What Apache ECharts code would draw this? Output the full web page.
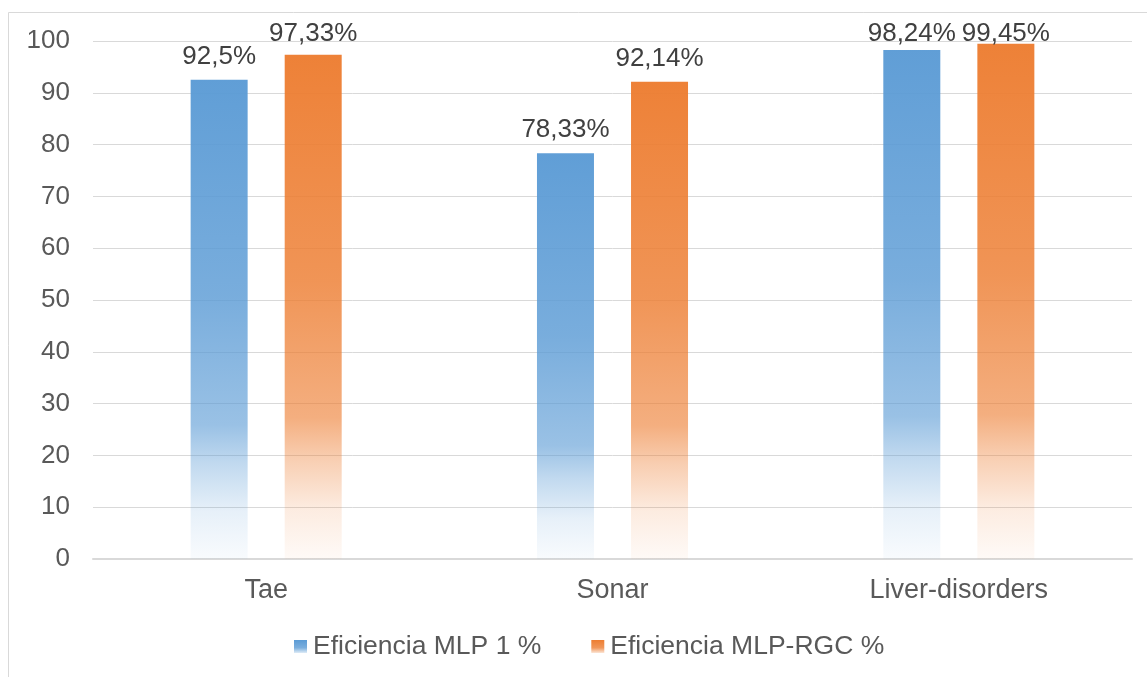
<!DOCTYPE html>
<html>
<head>
<meta charset="utf-8">
<script src="https://cdn.jsdelivr.net/npm/echarts@6/dist/echarts.min.js"></script>
<style>
  html, body { margin: 0; padding: 0; background: #fff; }
  #chart { width: 1147px; height: 677px; }
</style>
</head>
<body>
<div id="chart"></div>
<script>
// Datasets and results
const categories = ['Tae', 'Sonar', 'Liver-disorders'];
const mlp1 = [92.5, 78.33, 98.24];
const mlpRgc = [97.33, 92.14, 99.45];
const labelsMlp1 = ['92,5%', '78,33%', '98,24%'];
const labelsMlpRgc = ['97,33%', '92,14%', '99,45%'];
const seriesNames = ['Eficiencia MLP 1 %', 'Eficiencia MLP-RGC %'];
const yTicks = { min: 0, max: 100, interval: 10 };

// vertical fade: solid at the top, fading out towards the base of each bar
function fade(r, g, b) {
  return new echarts.graphic.LinearGradient(0, 0, 0, 1, [
    { offset: 0, color: `rgba(${r},${g},${b},0.97)` },
    { offset: 0.45, color: `rgba(${r},${g},${b},0.82)` },
    { offset: 0.72, color: `rgba(${r},${g},${b},0.62)` },
    { offset: 0.8, color: `rgba(${r},${g},${b},0.38)` },
    { offset: 0.9, color: `rgba(${r},${g},${b},0.15)` },
    { offset: 1, color: `rgba(${r},${g},${b},0.04)` }
  ]);
}
function legendFade(r, g, b) {
  return new echarts.graphic.LinearGradient(0, 0, 0, 1, [
    { offset: 0, color: `rgba(${r},${g},${b},1)` },
    { offset: 0.6, color: `rgba(${r},${g},${b},0.8)` },
    { offset: 1, color: `rgba(${r},${g},${b},0.2)` }
  ]);
}

const textColor = '#595959';
const font = 'Liberation Sans, Arial, sans-serif';
// value labels never rise above this line
const LABEL_MIN_BOTTOM = 47;

function makeSeries(name, values, labels, rgb) {
  return {
    name: name,
    type: 'bar',
    data: values.map((v, i) => ({ value: v, label: { formatter: labels[i] } })),
    barWidth: 57,
    barGap: '65%',
    itemStyle: { color: fade(...rgb) },
    label: {
      show: true,
      position: 'top',
      distance: 10,
      color: '#404040',
      fontSize: 26,
      fontFamily: font
    },
    labelLayout: function (p) {
      const r = p.labelRect;
      const bottom = r.y + r.height;
      return bottom < LABEL_MIN_BOTTOM ? { dy: LABEL_MIN_BOTTOM - bottom } : {};
    },
    z: 1
  };
}

const chart = echarts.init(document.getElementById('chart'), null, { renderer: 'canvas' });
chart.setOption({
  animation: false,
  backgroundColor: '#fff',
  graphic: [{
    type: 'rect',
    shape: { x: 8.5, y: 12.5, width: 1150, height: 680 },
    style: { fill: 'none', stroke: '#d9d9d9', lineWidth: 1 },
    silent: true
  }],
  grid: { left: 93, right: 15, top: 41, bottom: 118, containLabel: false },
  legend: {
    bottom: 12,
    left: 289,
    itemWidth: 13,
    itemHeight: 13,
    itemGap: 50,
    icon: 'rect',
    textStyle: { color: textColor, fontSize: 26.5, fontFamily: font, padding: [0, 0, 0, 1] },
    data: [
      { name: seriesNames[0], itemStyle: { color: legendFade(91, 155, 213) } },
      { name: seriesNames[1], itemStyle: { color: legendFade(237, 125, 49) } }
    ]
  },
  xAxis: {
    type: 'category',
    data: categories,
    axisLine: { show: true, lineStyle: { color: '#d9d9d9', width: 2 } },
    axisTick: { show: false },
    axisLabel: { color: textColor, fontSize: 27, fontFamily: font, margin: 18 }
  },
  yAxis: {
    type: 'value',
    min: yTicks.min,
    max: yTicks.max,
    interval: yTicks.interval,
    axisLine: { show: false },
    axisTick: { show: false },
    splitLine: { show: true, lineStyle: { color: '#d9d9d9', width: 1 } },
    axisLabel: { color: textColor, fontSize: 26, fontFamily: font, margin: 23 }
  },
  series: [
    makeSeries(seriesNames[0], mlp1, labelsMlp1, [91, 155, 213]),
    makeSeries(seriesNames[1], mlpRgc, labelsMlpRgc, [237, 125, 49])
  ]
});
</script>
</body>
</html>
